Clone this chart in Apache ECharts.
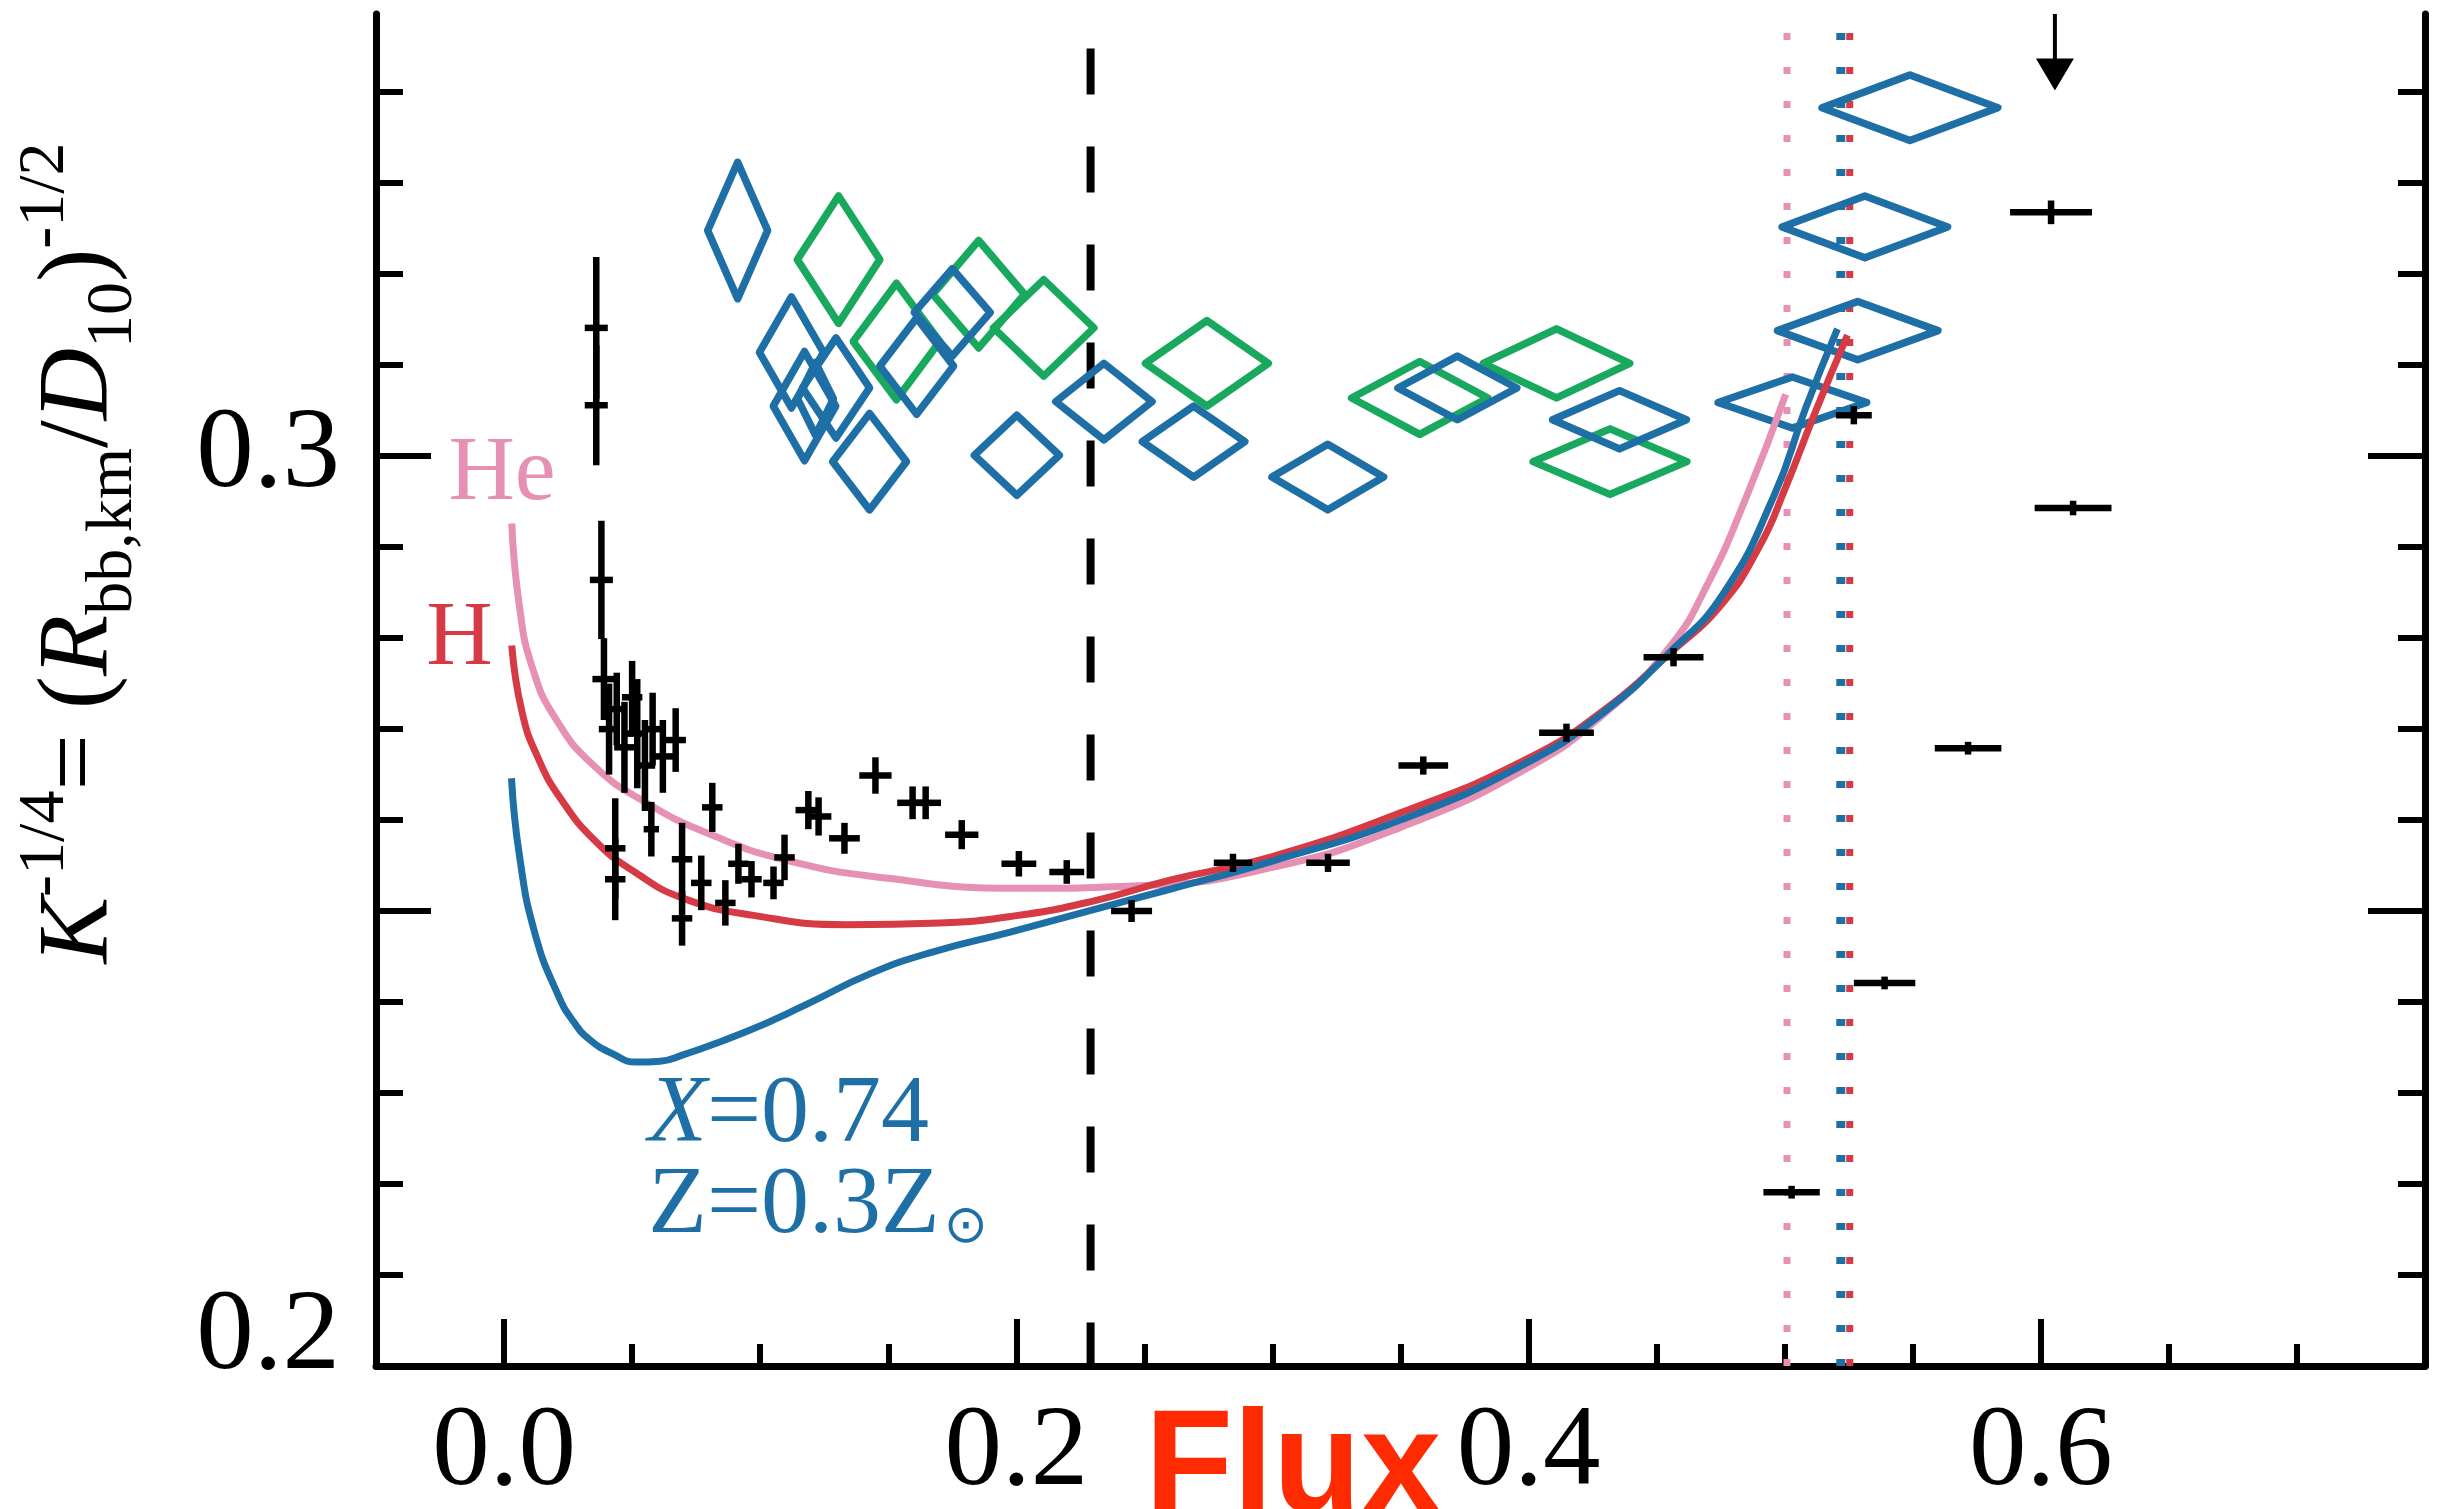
<!DOCTYPE html>
<html><head><meta charset="utf-8">
<script src="https://cdn.jsdelivr.net/npm/echarts@6/dist/echarts.min.js"></script>
<style>html,body{margin:0;padding:0;background:#fff}#c{width:2440px;height:1509px}</style>
</head><body><div id="c"></div>
<script>
// ---------------- DATA ----------------
const xRange = [-0.05, 0.75];
const yRange = [0.2, 0.3486];
const xMajorTicks = [0, 0.2, 0.4, 0.6];
const xMinorTicks = [0.05, 0.1, 0.15, 0.25, 0.3, 0.35, 0.45, 0.5, 0.55, 0.65, 0.7];
const yLabelValues = [0.2, 0.3];
const yMajorTicks = [0.25, 0.3];
const yMinorTicks = [0.21, 0.22, 0.23, 0.24, 0.26, 0.27, 0.28, 0.29, 0.31, 0.32, 0.33, 0.34];

// black data points: [flux, K^-1/4, xerr, yerr]
const blackPoints = [
  [0.036, 0.3141, 0.0045, 0.0078], [0.036, 0.3056, 0.0045, 0.0066],
  [0.038, 0.2864, 0.0045, 0.0065], [0.039, 0.2755, 0.0045, 0.0045],
  [0.041, 0.2700, 0.0040, 0.0050], [0.044, 0.2722, 0.0040, 0.0040],
  [0.047, 0.2680, 0.0040, 0.0050], [0.050, 0.2735, 0.0040, 0.0040],
  [0.052, 0.2695, 0.0040, 0.0060], [0.055, 0.2660, 0.0040, 0.0050],
  [0.058, 0.2700, 0.0040, 0.0040], [0.062, 0.2670, 0.0040, 0.0040],
  [0.067, 0.2688, 0.0040, 0.0035], [0.0434, 0.2569, 0.0040, 0.0055],
  [0.0434, 0.2535, 0.0040, 0.0045], [0.0575, 0.2590, 0.0030, 0.0030],
  [0.0695, 0.2557, 0.0040, 0.0040], [0.0695, 0.2492, 0.0040, 0.0030],
  [0.0770, 0.2531, 0.0040, 0.0030], [0.0813, 0.2614, 0.0040, 0.0027],
  [0.0864, 0.2509, 0.0040, 0.0025], [0.0915, 0.2552, 0.0040, 0.0022],
  [0.0966, 0.2535, 0.0040, 0.0020], [0.1052, 0.2531, 0.0040, 0.0018],
  [0.1095, 0.2559, 0.0040, 0.0025], [0.1188, 0.2611, 0.0050, 0.0021],
  [0.1228, 0.2604, 0.0050, 0.0021], [0.1329, 0.2580, 0.0060, 0.0017],
  [0.1450, 0.2649, 0.0063, 0.0020], [0.1595, 0.2619, 0.0060, 0.0018],
  [0.1646, 0.2619, 0.0060, 0.0018], [0.1787, 0.2584, 0.0065, 0.0016],
  [0.2010, 0.2552, 0.0068, 0.0014], [0.2197, 0.2543, 0.0068, 0.0013],
  [0.2450, 0.2500, 0.0080, 0.0012], [0.2846, 0.2553, 0.0075, 0.0010],
  [0.3217, 0.2553, 0.0085, 0.0010], [0.3589, 0.2660, 0.0097, 0.0010],
  [0.4148, 0.2696, 0.0107, 0.0010], [0.4566, 0.2779, 0.0117, 0.0010],
  [0.5270, 0.3045, 0.0070, 0.0010], [0.5390, 0.2421, 0.0120, 0.0007],
  [0.5027, 0.2191, 0.0110, 0.0007], [0.5716, 0.2679, 0.0130, 0.0007],
  [0.6126, 0.2943, 0.0150, 0.0008], [0.6040, 0.3268, 0.0160, 0.0013]
];
// upper limit (arrow) [flux, K^-1/4]
const upperLimits = [[0.6055, 0.3402]];

// diamonds: [flux, K^-1/4, half-width, half-height]
const blueDiamonds = [
  [0.0912, 0.3248, 0.0117, 0.0075], [0.1122, 0.3114, 0.0125, 0.0061],
  [0.1173, 0.3055, 0.0122, 0.0060], [0.1216, 0.3063, 0.0070, 0.0040],
  [0.1296, 0.3075, 0.0131, 0.0055], [0.1427, 0.2994, 0.0144, 0.0053],
  [0.1611, 0.3099, 0.0144, 0.0053], [0.1750, 0.3158, 0.0148, 0.0048],
  [0.2002, 0.3001, 0.0166, 0.0044], [0.2342, 0.3060, 0.0188, 0.0042],
  [0.2692, 0.3016, 0.0200, 0.0039], [0.3216, 0.2977, 0.0218, 0.0036],
  [0.3722, 0.3075, 0.0232, 0.0035], [0.4355, 0.3040, 0.0261, 0.0032],
  [0.5030, 0.3059, 0.0290, 0.0028], [0.5285, 0.3138, 0.0313, 0.0032],
  [0.5313, 0.3252, 0.0323, 0.0034], [0.5489, 0.3383, 0.0343, 0.0036]
];
const greenDiamonds = [
  [0.1306, 0.3216, 0.0161, 0.0070], [0.1532, 0.3126, 0.0169, 0.0064],
  [0.1853, 0.3178, 0.0179, 0.0059], [0.2107, 0.3141, 0.0196, 0.0053],
  [0.2744, 0.3102, 0.0240, 0.0047], [0.3575, 0.3064, 0.0266, 0.0040],
  [0.4109, 0.3102, 0.0286, 0.0038], [0.4318, 0.2994, 0.0300, 0.0036]
];

// model curves [flux, K^-1/4]
const curveHe = [
  [0.003, 0.2926], [0.006, 0.2835], [0.011, 0.2768], [0.020, 0.2712],
  [0.035, 0.2660], [0.055, 0.2620], [0.080, 0.2585], [0.110, 0.2556],
  [0.150, 0.2536], [0.200, 0.2525], [0.250, 0.2528], [0.300, 0.2548],
  [0.350, 0.2592], [0.400, 0.2658], [0.430, 0.2718], [0.455, 0.2790],
  [0.470, 0.2860], [0.485, 0.2955], [0.5004, 0.3068]
];
const curveH = [
  [0.003, 0.2792], [0.007, 0.2719], [0.013, 0.2670], [0.022, 0.2624],
  [0.036, 0.2576], [0.051, 0.2543], [0.070, 0.2514], [0.098, 0.2495],
  [0.134, 0.2485], [0.170, 0.2487], [0.200, 0.2495], [0.230, 0.2511],
  [0.260, 0.2534], [0.300, 0.2560], [0.350, 0.2608], [0.400, 0.2668],
  [0.430, 0.2722], [0.455, 0.2783], [0.475, 0.2836], [0.490, 0.2900],
  [0.5004, 0.2966], [0.5113, 0.3044], [0.5245, 0.3133]
];
const curveX074 = [
  [0.0029, 0.2646], [0.0060, 0.2561], [0.0121, 0.2475], [0.0212, 0.2407],
  [0.0270, 0.2379], [0.0333, 0.2359], [0.0425, 0.2343], [0.0516, 0.2334],
  [0.0610, 0.2335], [0.0699, 0.2342], [0.0942, 0.2367],
  [0.1185, 0.2398], [0.1428, 0.2431], [0.1672, 0.2455], [0.1976, 0.2477],
  [0.2280, 0.2500], [0.2600, 0.2524], [0.3000, 0.2555], [0.3500, 0.2600],
  [0.4000, 0.2664], [0.4300, 0.2720], [0.4550, 0.2784], [0.4758, 0.2848],
  [0.4959, 0.2957], [0.5082, 0.3053], [0.5206, 0.3140]
];

// vertical reference lines: flux positions
const dashedLineX = 0.229;
const pinkDottedX = 0.5009;
const blueDottedX = 0.5219;
const redDottedX = 0.5254;
const dashedTop = 0.3448;
const dottedTop = 0.3474;

// ---------------- STYLE ----------------
const C = {
  pink: '#e690b4', red: '#d63a45', blue: '#1e6fa6', green: '#19a95e', black: '#000'
};
const SERIF = '"Liberation Serif", "DejaVu Serif", serif';

const chart = echarts.init(document.getElementById('c'), null, {renderer: 'canvas'});

function errRender(params, api) {
  const x = api.value(0), y = api.value(1), ex = api.value(2), ey = api.value(3);
  const l = api.coord([x - ex, y]), r = api.coord([x + ex, y]);
  const t = api.coord([x, y + ey]), b = api.coord([x, y - ey]);
  const st = {stroke: C.black, lineWidth: 6.5};
  return {type: 'group', children: [
    {type: 'line', shape: {x1: l[0], y1: l[1], x2: r[0], y2: r[1]}, style: st},
    {type: 'line', shape: {x1: t[0], y1: t[1], x2: b[0], y2: b[1]}, style: st}
  ]};
}
function diamondRender(color) {
  return function (params, api) {
    const x = api.value(0), y = api.value(1), ex = api.value(2), ey = api.value(3);
    const pts = [api.coord([x - ex, y]), api.coord([x, y + ey]), api.coord([x + ex, y]), api.coord([x, y - ey])];
    return {type: 'polygon', shape: {points: pts}, style: {fill: 'none', stroke: color, lineWidth: 7.5, lineJoin: 'round'}};
  };
}
function arrowRender(params, api) {
  const x = api.value(0), y = api.value(1);
  const tip = api.coord([x, y]);
  const top = api.coord([x, yRange[1]]);
  const h = 32, w = 19;
  return {type: 'group', children: [
    {type: 'line', shape: {x1: top[0], y1: top[1], x2: tip[0], y2: tip[1] - h + 2}, style: {stroke: C.black, lineWidth: 4}},
    {type: 'polygon', shape: {points: [[tip[0] - w, tip[1] - h], [tip[0] + w, tip[1] - h], [tip[0], tip[1]]]}, style: {fill: C.black}}
  ]};
}

function vline(x, yTop, color, dash, width, z, fromBottom) {
  const d = fromBottom ? [[x, yRange[0]], [x, yTop]] : [[x, yTop], [x, yRange[0]]];
  return {type: 'line', data: d, showSymbol: false, symbol: 'none', z: z, silent: true,
    lineStyle: {color: color, width: width, type: dash, cap: 'butt'}, animation: false};
}
function curve(data, color) {
  return {type: 'line', data: data, showSymbol: false, symbol: 'none', smooth: 0.5,
    lineStyle: {color: color, width: 7}, z: 4, animation: false};
}

const axisFont = {fontFamily: SERIF, fontSize: 115, color: '#000'};
const baseX = {type: 'value', min: xRange[0], max: xRange[1], position: 'bottom', splitLine: {show: false}};
const baseY = {type: 'value', min: yRange[0], max: yRange[1], splitLine: {show: false}};

const option = {
  backgroundColor: '#fff',
  animation: false,
  grid: {left: 376, right: 15, top: 14, bottom: 143, containLabel: false, outerBoundsMode: 'none'},
  xAxis: [
    Object.assign({}, baseX, {
      axisLine: {show: true, onZero: false, lineStyle: {color: '#000', width: 7}},
      axisTick: {show: true, inside: true, length: 47, lineStyle: {color: '#000', width: 6}, customValues: xMajorTicks},
      axisLabel: Object.assign({show: true, margin: 30, customValues: xMajorTicks, formatter: v => v.toFixed(1)}, axisFont)
    }),
    Object.assign({}, baseX, {
      axisLine: {show: false, onZero: false},
      axisTick: {show: true, inside: true, length: 22, lineStyle: {color: '#000', width: 6}, customValues: xMinorTicks},
      axisLabel: {show: false}
    })
  ],
  yAxis: [
    Object.assign({}, baseY, {
      position: 'left',
      axisLine: {show: true, onZero: false, lineStyle: {color: '#000', width: 7}},
      axisTick: {show: true, inside: true, length: 55, lineStyle: {color: '#000', width: 6}, customValues: yMajorTicks},
      axisLabel: Object.assign({show: true, margin: 36, customValues: yLabelValues,
        formatter: v => Math.abs(v - 0.2) < 1e-9 ? '{low|0.2}' : v.toFixed(1),
        rich: {low: {fontFamily: SERIF, fontSize: 115, color: '#000', padding: [0, 0, 56, 0]}}}, axisFont)
    }),
    Object.assign({}, baseY, {
      position: 'left',
      axisLine: {show: false, onZero: false},
      axisTick: {show: true, inside: true, length: 27, lineStyle: {color: '#000', width: 6}, customValues: yMinorTicks},
      axisLabel: {show: false}
    }),
    Object.assign({}, baseY, {
      position: 'right',
      axisLine: {show: true, onZero: false, lineStyle: {color: '#000', width: 7}},
      axisTick: {show: true, inside: true, length: 57, lineStyle: {color: '#000', width: 6}, customValues: yMajorTicks},
      axisLabel: {show: false}
    }),
    Object.assign({}, baseY, {
      position: 'right',
      axisLine: {show: false, onZero: false},
      axisTick: {show: true, inside: true, length: 27, lineStyle: {color: '#000', width: 6}, customValues: yMinorTicks},
      axisLabel: {show: false}
    })
  ],
  series: [
    vline(dashedLineX, dashedTop, '#000', [46, 52], 8, 2, false),
    vline(pinkDottedX, dottedTop, C.pink, [7, 27], 7, 2, true),
    vline(blueDottedX, dottedTop, C.blue, [7, 27], 9, 2, true),
    vline(redDottedX, dottedTop, C.red, [7, 27], 7, 2, true),
    {type: 'custom', data: greenDiamonds, renderItem: diamondRender(C.green), z: 3, animation: false},
    {type: 'custom', data: blueDiamonds, renderItem: diamondRender(C.blue), z: 3, animation: false},
    {type: 'custom', data: blackPoints, renderItem: errRender, z: 5, animation: false},
    {type: 'custom', data: upperLimits, renderItem: arrowRender, z: 5, animation: false},
    curve(curveHe, C.pink),
    curve(curveH, C.red),
    curve(curveX074, C.blue)
  ]
};
chart.setOption(option);

// ---------------- ANNOTATIONS (anchored in data coordinates) ----------------
const annotations = [
  {at: [-0.0008, 0.2980], rich: '{a|He}', color: C.pink, align: 'center', size: 92},
  {at: [-0.0174, 0.2798], rich: '{a|H}', color: C.red, align: 'center', size: 92},
  {at: [0.0563, 0.2275], rich: '{i|X}{a|=0.74}', color: C.blue, align: 'left', size: 96},
  {at: [0.0563, 0.2175], rich: '{a|Z=0.3Z}{s|⊙}', color: C.blue, align: 'left', size: 96}
];
const graphics = annotations.map(a => {
  const p = chart.convertToPixel({xAxisIndex: 0, yAxisIndex: 0}, a.at);
  return {type: 'text', x: p[0], y: p[1], z: 10, style: {
    text: a.rich, align: a.align, verticalAlign: 'middle',
    rich: {
      a: {fontFamily: SERIF, fontSize: a.size, fill: a.color, color: a.color},
      i: {fontFamily: SERIF, fontSize: a.size, fontStyle: 'italic', fill: a.color, color: a.color},
      s: {fontFamily: '"DejaVu Sans", sans-serif', fontSize: a.size * 0.55, fill: a.color, color: a.color, verticalAlign: 'bottom', padding: [30, 0, 0, 4]}
    }
  }};
});

// Y axis title (rotated rich text)
const T = 100, S = 66;
graphics.push({
  type: 'text', x: 80, y: 553, rotation: Math.PI / 2, z: 10,
  style: {
    text: '{i|K}{sup|-1/4}{n|= (}{i|R}{sub|bb,km}{n|/}{i|D}{sub|10}{n|)}{sup|-1/2}',
    align: 'center', verticalAlign: 'middle',
    rich: {
      n: {fontFamily: SERIF, fontSize: T, fill: '#000', lineHeight: 150, verticalAlign: 'middle'},
      i: {fontFamily: SERIF, fontSize: T, fontStyle: 'italic', fill: '#000', lineHeight: 150, verticalAlign: 'middle'},
      sup: {fontFamily: SERIF, fontSize: S, fill: '#000', lineHeight: 150, verticalAlign: 'top', padding: [8, 0, 0, 0]},
      sub: {fontFamily: SERIF, fontSize: S, fill: '#000', lineHeight: 150, verticalAlign: 'bottom', padding: [0, 0, 8, 0]}
    }
  }
});

// X axis title
graphics.push({
  type: 'text', x: 1293, y: 1471, z: 10,
  style: {text: 'Flux', align: 'center', verticalAlign: 'middle',
    fontFamily: '"Liberation Sans", Arial, sans-serif', fontWeight: 'bold', fontSize: 144, fill: '#ff2a00'}
});

chart.setOption({graphic: graphics});
</script>
</body></html>
